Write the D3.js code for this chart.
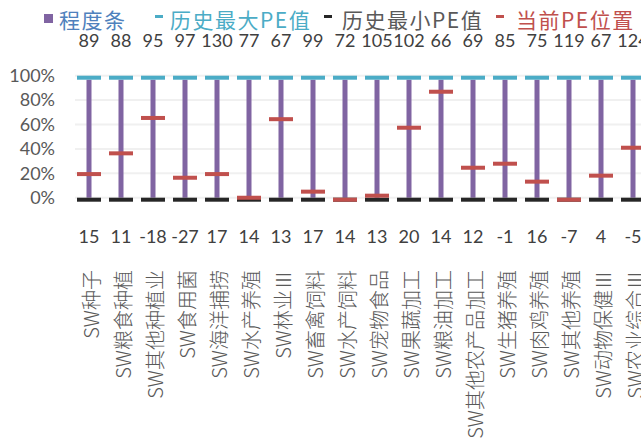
<!DOCTYPE html>
<html>
<head>
<meta charset="utf-8">
<script src="https://cdn.jsdelivr.net/npm/d3@7/dist/d3.min.js"></script>
<style>
  html, body { margin: 0; padding: 0; background: #fff; }
  svg { display: block; }
</style>
</head>
<body>
<svg id="chart" width="641" height="441"></svg>
<script>
// Industry names (Shenwan agriculture sub-sectors)
const categories = [
  "SW种子", "SW粮食种植", "SW其他种植业", "SW食用菌", "SW海洋捕捞", "SW水产养殖",
  "SW林业Ⅲ", "SW畜禽饲料", "SW水产饲料", "SW宠物食品", "SW果蔬加工", "SW粮油加工",
  "SW其他农产品加工", "SW生猪养殖", "SW肉鸡养殖", "SW其他养殖", "SW动物保健Ⅲ", "SW农业综合Ⅲ"
];
// Historical maximum PE per industry
const maxPE = [89, 88, 95, 97, 130, 77, 67, 99, 72, 105, 102, 66, 69, 85, 75, 119, 67, 124];
// Historical minimum PE per industry
const minPE = [15, 11, -18, -27, 17, 14, 13, 17, 14, 13, 20, 14, 12, -1, 16, -7, 4, -5];
// Current PE position within the historical range (0 = min, 1 = max)
const currentPos = [0.21, 0.38, 0.67, 0.18, 0.21, 0.016, 0.66, 0.066, 0, 0.033, 0.59, 0.885, 0.262, 0.295, 0.148, 0, 0.197, 0.426];
// Percentage axis ticks
const yTicks = [0, 0.2, 0.4, 0.6, 0.8, 1];

const legendItems = [
  { label: "程度条", color: "#4F81BD", mark: "square", markColor: "#8064A2", mx: 44, tx: 59 },
  { label: "历史最大PE值", color: "#4BACC6", mark: "dash", markColor: "#4BACC6", mx: 155, tx: 170 },
  { label: "历史最小PE值", color: "#595959", mark: "dash", markColor: "#262626", mx: 324, tx: 342 },
  { label: "当前PE位置", color: "#C0504D", mark: "dash", markColor: "#C0504D", mx: 496, tx: 516 }
];

const numFont = "Lato, 'Open Sans', sans-serif";
const cjkFont = "'Noto Sans CJK SC', sans-serif";

const svg = d3.select("#chart");

const x = d3.scaleBand().domain(categories).range([73, 649]);
const y = d3.scaleLinear().domain([0, 1]).range([197.7, 75.7]);
const cx = d => x(d) + x.bandwidth() / 2;

// Horizontal gridlines
svg.append("g").selectAll("line").data(yTicks).join("line")
  .attr("x1", 75).attr("x2", 641)
  .attr("y1", d => y(d)).attr("y2", d => y(d))
  .attr("stroke", "#F0F0F0").attr("stroke-width", 2);

// Y axis labels
const yAxis = svg.append("g").attr("transform", "translate(57,0)")
  .call(d3.axisLeft(y).tickValues(yTicks).tickFormat(d3.format(".0%")).tickSize(0).tickPadding(2));
yAxis.select(".domain").remove();
yAxis.selectAll("text")
  .attr("font-family", numFont).attr("font-size", 18).attr("fill", "#595959");

// Range bars (min to max)
const capW = 24, capH = 4, barW = 5;
svg.append("g").selectAll("rect").data(categories).join("rect")
  .attr("x", d => cx(d) - barW / 2)
  .attr("y", y(1) + capH)
  .attr("width", barW)
  .attr("height", y(0) - y(1) - capH)
  .attr("fill", "#8064A2");

// Max cap
svg.append("g").selectAll("rect").data(categories).join("rect")
  .attr("x", d => cx(d) - capW / 2).attr("y", y(1))
  .attr("width", capW).attr("height", capH).attr("fill", "#4BACC6");

// Min cap
svg.append("g").selectAll("rect").data(categories).join("rect")
  .attr("x", d => cx(d) - capW / 2).attr("y", y(0))
  .attr("width", capW).attr("height", capH).attr("fill", "#262626");

// Current position marker
svg.append("g").selectAll("rect").data(categories).join("rect")
  .attr("x", d => cx(d) - capW / 2).attr("y", (d, i) => y(currentPos[i]))
  .attr("width", capW).attr("height", capH).attr("fill", "#C0504D");

// Max PE values above the plot
svg.append("g").selectAll("text").data(categories).join("text")
  .attr("x", d => cx(d)).attr("y", 40)
  .attr("text-anchor", "middle").attr("dominant-baseline", "central")
  .attr("font-family", numFont).attr("font-size", 18).attr("fill", "#404040")
  .text((d, i) => maxPE[i]);

// Min PE values below the plot
svg.append("g").selectAll("text").data(categories).join("text")
  .attr("x", d => cx(d)).attr("y", 236)
  .attr("text-anchor", "middle").attr("dominant-baseline", "central")
  .attr("font-family", numFont).attr("font-size", 18).attr("fill", "#404040")
  .text((d, i) => minPE[i]);

// Category labels, rotated
const xAxis = svg.append("g").attr("transform", "translate(1,262)")
  .call(d3.axisBottom(x).tickSize(0).tickPadding(0));
xAxis.select(".domain").remove();
xAxis.selectAll("text")
  .attr("transform", "translate(0,8) rotate(-90)")
  .attr("x", 0).attr("y", 0).attr("dy", null)
  .attr("text-anchor", "end").attr("dominant-baseline", "central")
  .attr("font-family", cjkFont).attr("font-weight", 300)
  .attr("font-size", 20).attr("fill", "#595959");

// Legend
const lg = svg.append("g");
legendItems.forEach(it => {
  if (it.mark === "square") {
    lg.append("rect").attr("x", it.mx).attr("y", 14).attr("width", 9).attr("height", 9).attr("fill", it.markColor);
  } else {
    lg.append("rect").attr("x", it.mx).attr("y", 15).attr("width", 8).attr("height", 3).attr("fill", it.markColor);
  }
  lg.append("text")
    .attr("x", it.tx).attr("y", 18.5)
    .attr("dominant-baseline", "central")
    .attr("font-family", cjkFont).attr("font-size", 21)
    .attr("letter-spacing", 1.5).attr("fill", it.color)
    .text(it.label);
});
</script>
</body>
</html>
